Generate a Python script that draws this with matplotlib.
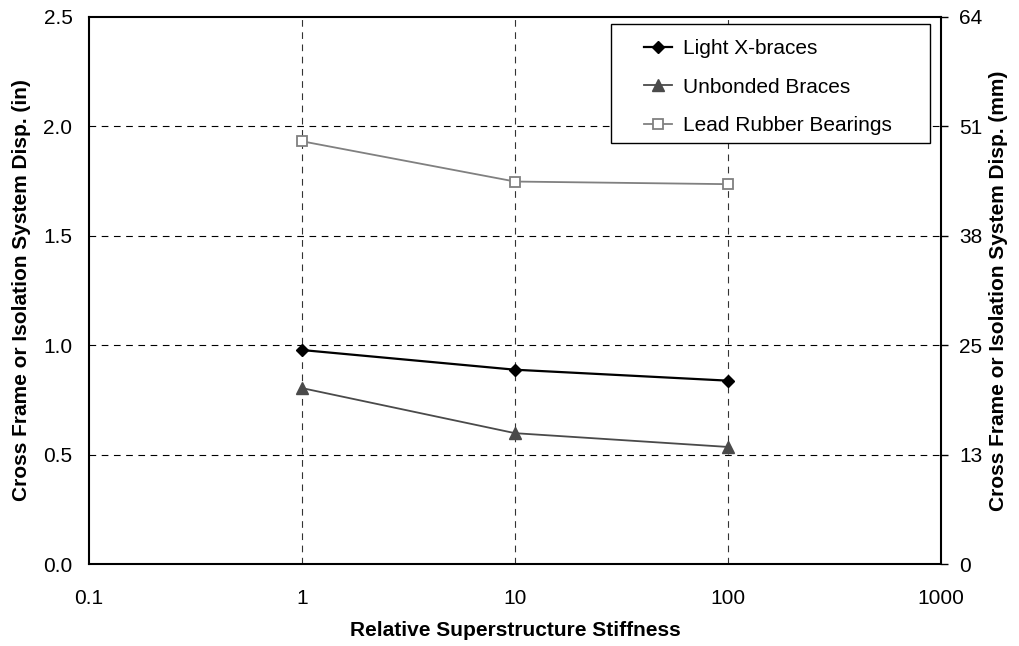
import numpy as np
import matplotlib
matplotlib.use("Agg")
import matplotlib.pyplot as plt
from matplotlib.patches import Rectangle
from matplotlib.ticker import FixedLocator, FuncFormatter

plt.rcParams['font.family'] = ['Liberation Sans', 'DejaVu Sans']

# ── Data ───────────────────────────────────────────────
stiffness   = [1, 10, 100]
light_x     = [0.978, 0.888, 0.838]
unbonded    = [0.804, 0.598, 0.535]
lead_rubber = [1.932, 1.748, 1.736]

y_ticks_in = [0.0, 0.5, 1.0, 1.5, 2.0, 2.5]
x_ticks    = [0.1, 1, 10, 100, 1000]
x_labels   = ['0.1', '1', '10', '100', '1000']

FS = 15

# ── Figure ─────────────────────────────────────────────
fig = plt.figure(figsize=(10.2, 6.46), dpi=100)
ax = fig.add_axes([0.0873, 0.1269, 0.8352, 0.8468])

ax.set_xscale('log')
ax.set_xlim(0.1, 1000)
ax.set_ylim(0, 2.5)
ax.set_xticks(x_ticks)
ax.set_xticklabels(x_labels)
ax.xaxis.set_minor_locator(FixedLocator([]))
ax.set_yticks(y_ticks_in)
ax.yaxis.set_major_formatter(FuncFormatter(lambda v, p: f'{v:.1f}'))
ax.tick_params(axis='both', length=0, labelsize=FS)
ax.tick_params(axis='x', pad=18)
ax.tick_params(axis='y', pad=12)

for s in ax.spines.values():
    s.set_linewidth(1.5)
    s.set_color('black')

# dashed grid (interior lines only)
for yv in y_ticks_in[1:-1]:
    ax.axhline(yv, color='black', lw=0.8, ls=(0, (6, 5)), zorder=1)
for xv in x_ticks[1:-1]:
    ax.axvline(xv, color='#333333', lw=0.8, ls=(0, (6, 5)), zorder=1)

ax.plot(stiffness, light_x, color='black', lw=1.6, marker='D', ms=6,
        mfc='black', mec='black', label='Light X-braces', zorder=3)
ax.plot(stiffness, unbonded, color='#4a4a4a', lw=1.3, marker='^', ms=8,
        mfc='#4a4a4a', mec='#4a4a4a', label='Unbonded Braces', zorder=3)
ax.plot(stiffness, lead_rubber, color='#808080', lw=1.3, marker='s', ms=7,
        mfc='white', mec='#808080', mew=1.3, label='Lead Rubber Bearings', zorder=3)

ax.set_xlabel('Relative Superstructure Stiffness', fontsize=FS,
              fontweight='bold', labelpad=9)
ax.set_ylabel('Cross Frame or Isolation System Disp. (in)', fontsize=FS,
              fontweight='bold', labelpad=9)

# right axis in mm
ax2 = ax.twinx()
ax2.set_ylim(0, 2.5 * 25.4)
ax2.set_yticks([v * 25.4 for v in y_ticks_in])
ax2.yaxis.set_major_formatter(FuncFormatter(lambda v, p: f'{v:.0f}'))
ax2.tick_params(axis='y', direction='out', length=5, width=1,
                labelsize=FS, pad=8)
for s in ax2.spines.values():
    s.set_visible(False)
ax2.set_ylabel('Cross Frame or Isolation System Disp. (mm)', fontsize=FS,
               fontweight='bold', labelpad=5)

# legend: white box with black border, entries placed inside
box = Rectangle((0.6127, 0.7697), 0.3744, 0.2175, transform=ax.transAxes,
                facecolor='white', edgecolor='black', lw=1.0, zorder=4)
ax.add_patch(box)
leg = ax.legend(loc='upper left', bbox_to_anchor=(0.6515, 0.960),
                fontsize=FS, frameon=False, labelspacing=0.95,
                handlelength=1.35, handletextpad=0.5, borderpad=0,
                borderaxespad=0)
leg.set_zorder(5)

fig.savefig('out.png', dpi=100)
